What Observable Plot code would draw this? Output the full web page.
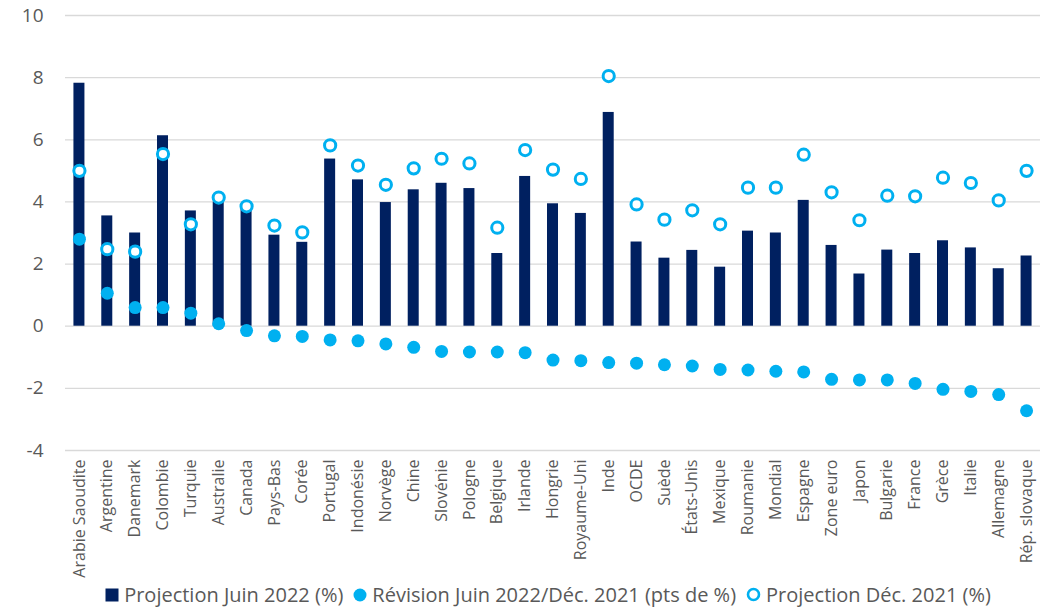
<!DOCTYPE html>
<html>
<head>
<meta charset="utf-8">
<script src="https://cdn.jsdelivr.net/npm/d3@7"></script>
<script src="https://cdn.jsdelivr.net/npm/@observablehq/plot@0.6"></script>
<style>
  html, body { margin: 0; padding: 0; background: #ffffff; }
  body { width: 1050px; height: 607px; overflow: hidden; font-family: "Open Sans", sans-serif; }
  #legend {
    display: flex; justify-content: center; align-items: center;
    height: 29px; font-size: 20px; color: #595959; white-space: nowrap;
    padding-left: 46px; margin-top: 2px;
  }
  #legend .item { display: flex; align-items: center; margin: 0 5px; }
  #legend .sw { display: inline-block; margin-right: 5px; }
</style>
</head>
<body>
<div id="chart"></div>
<div id="legend"></div>
<script>
// Pays / zones, dans l'ordre de la révision
const countries = [
  "Arabie Saoudite", "Argentine", "Danemark", "Colombie", "Turquie", "Australie",
  "Canada", "Pays-Bas", "Corée", "Portugal", "Indonésie", "Norvège", "Chine",
  "Slovénie", "Pologne", "Belgique", "Irlande", "Hongrie", "Royaume-Uni", "Inde",
  "OCDE", "Suède", "États-Unis", "Mexique", "Roumanie", "Mondial", "Espagne",
  "Zone euro", "Japon", "Bulgarie", "France", "Grèce", "Italie", "Allemagne",
  "Rép. slovaque"
];

// Projection de croissance Juin 2022 (%)
const projJune2022 = [
  7.82, 3.55, 3.0, 6.13, 3.71, 4.0, 3.8, 2.93, 2.7, 5.38, 4.71, 3.98, 4.39,
  4.6, 4.43, 2.34, 4.82, 3.94, 3.63, 6.88, 2.71, 2.19, 2.44, 1.9, 3.06, 3.0,
  4.05, 2.6, 1.68, 2.45, 2.34, 2.75, 2.52, 1.85, 2.26
];

// Révision Juin 2022 / Déc. 2021 (pts de %)
const revision = [
  2.8, 1.06, 0.6, 0.6, 0.42, 0.08, -0.14, -0.31, -0.33, -0.44, -0.47, -0.57,
  -0.68, -0.81, -0.83, -0.83, -0.85, -1.09, -1.11, -1.17, -1.19, -1.24, -1.28,
  -1.39, -1.41, -1.45, -1.47, -1.71, -1.73, -1.73, -1.84, -2.03, -2.1, -2.2,
  -2.72
];

// Projection de croissance Déc. 2021 (%)
const projDec2021 = [
  5.0, 2.48, 2.4, 5.54, 3.28, 4.14, 3.86, 3.24, 3.02, 5.82, 5.17, 4.55, 5.08,
  5.39, 5.24, 3.17, 5.67, 5.04, 4.74, 8.05, 3.92, 3.43, 3.73, 3.28, 4.46, 4.46,
  5.52, 4.31, 3.41, 4.2, 4.18, 4.78, 4.61, 4.05, 5.0
];

const yTicks = [-4, -2, 0, 2, 4, 6, 8, 10];

const seriesNames = [
  "Projection Juin 2022 (%)",
  "Révision Juin 2022/Déc. 2021 (pts de %)",
  "Projection Déc. 2021 (%)"
];

const navy = "#002060";
const cyan = "#00B0F0";
const textColor = "#595959";

const rows = countries.map((c, i) => ({
  country: c,
  june: projJune2022[i],
  rev: revision[i],
  dec: projDec2021[i]
}));

const W = 1050, mL = 65, mR = 10;
const step = (W - mL - mR) / countries.length;
const barInset = (step - 11) / 2;

const chart = Plot.plot({
  width: W,
  height: 578,
  marginTop: 15,
  marginLeft: mL,
  marginRight: mR,
  marginBottom: 128,
  style: { fontFamily: "'Open Sans', sans-serif", fontSize: "16px", color: textColor, background: "#ffffff" },
  x: {
    domain: countries,
    padding: 0,
    label: null
  },
  y: {
    domain: [-4, 10],
    ticks: yTicks,
    label: null
  },
  marks: [
    Plot.gridY(yTicks, { stroke: "#D9D9D9", strokeOpacity: 1, strokeWidth: 1.3 }),
    Plot.axisY(yTicks, {
      tickSize: 0, tickPadding: 22, fill: textColor, label: null, fontSize: 19,
      tickFormat: d => String(d)
    }),
    Plot.axisX({
      tickSize: 0, tickPadding: 9, tickRotate: -90, fill: textColor, label: null, fontSize: 16
    }),
    Plot.barY(rows, {
      x: "country", y: "june", fill: navy,
      insetLeft: barInset, insetRight: barInset
    }),
    Plot.dot(rows, { x: "country", y: "rev", r: 6.5, fill: cyan, stroke: "none" }),
    Plot.dot(rows, { x: "country", y: "dec", r: 5.6, fill: "#ffffff", stroke: cyan, strokeWidth: 3 })
  ]
});

document.getElementById("chart").appendChild(chart);

// Légende sous le graphique
const legend = document.getElementById("legend");
const swatches = [
  `<svg class="sw" width="14" height="14"><rect x="0.5" y="0.5" width="13" height="13" fill="${navy}"/></svg>`,
  `<svg class="sw" width="14" height="14"><circle cx="7" cy="7" r="6.5" fill="${cyan}"/></svg>`,
  `<svg class="sw" width="15" height="15"><circle cx="7.5" cy="7.5" r="5.5" fill="#fff" stroke="${cyan}" stroke-width="2.6"/></svg>`
];
seriesNames.forEach((name, i) => {
  const item = document.createElement("span");
  item.className = "item";
  item.innerHTML = swatches[i] + `<span>${name}</span>`;
  legend.appendChild(item);
});
</script>
</body>
</html>
